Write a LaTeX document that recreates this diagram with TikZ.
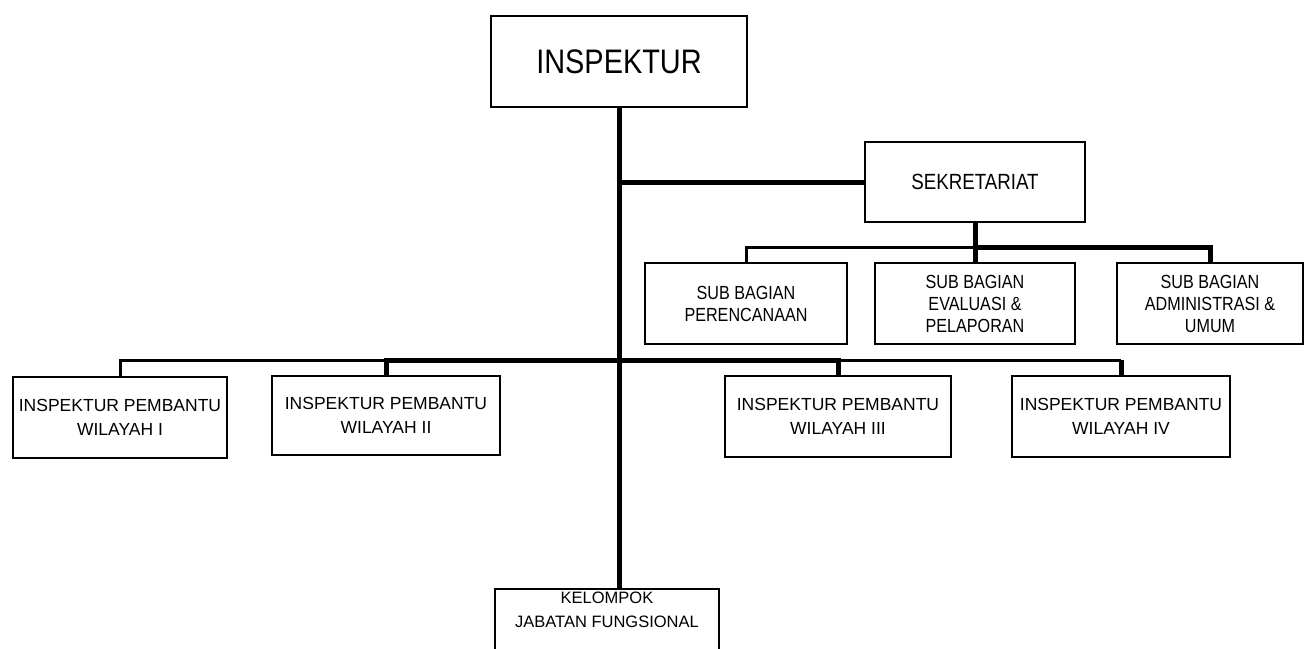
\documentclass[tikz,border=0pt]{standalone}
\usepackage{fontspec}
\setmainfont{Liberation Sans}
\newfontfamily\narrowfont[FakeStretch=0.85]{Liberation Sans}
\begin{document}
\begin{tikzpicture}[x=1pt,y=-1pt,
  box/.style={draw=black,line width=2,fill=white,inner sep=0,align=center,text=black},
  subtext/.style={font=\narrowfont\fontsize{19}{22}\selectfont},
  ptext/.style={font=\fontsize{17.5}{24}\selectfont},
  thin/.style={line width=3,line join=miter},
  thick/.style={line width=5,line join=miter}]
\useasboundingbox (0,0) rectangle (1304,648);
\clip (0,0) rectangle (1304,648);
% nodes
\node[box,minimum width=256,minimum height=91,font=\narrowfont\fontsize{34}{40}\selectfont] (ins) at (619,61.5) {INSPEKTUR};
\node[box,minimum width=220,minimum height=80,font=\narrowfont\fontsize{22}{26}\selectfont] (sek) at (975,182) {SEKRETARIAT};
\node[box,subtext,minimum width=202,minimum height=81] (sA) at (746,303.5) {SUB BAGIAN\\PERENCANAAN};
\node[box,subtext,minimum width=200,minimum height=81] (sB) at (975,303.5) {SUB BAGIAN\\EVALUASI \&\\PELAPORAN};
\node[box,subtext,minimum width=186,minimum height=81] (sC) at (1210,303.5) {SUB BAGIAN\\ADMINISTRASI \&\\UMUM};
\node[box,ptext,minimum width=214,minimum height=81] (p1) at (120,417.5) {INSPEKTUR PEMBANTU\\WILAYAH I};
\node[box,ptext,minimum width=228,minimum height=79] (p2) at (386,415.5) {INSPEKTUR PEMBANTU\\WILAYAH II};
\node[box,ptext,minimum width=226,minimum height=81] (p3) at (838,416.5) {INSPEKTUR PEMBANTU\\WILAYAH III};
\node[box,ptext,minimum width=218,minimum height=81] (p4) at (1121,416.5) {INSPEKTUR PEMBANTU\\WILAYAH IV};
\node[box,minimum width=224,minimum height=92,anchor=north] (kel) at (607,588) {};
\node[text=black,align=center,anchor=north,inner sep=0,font=\fontsize{16.5}{24}\selectfont] (keltext) at (607,592) {KELOMPOK\\JABATAN FUNGSIONAL};
% bus coordinates
\coordinate (sbus) at (975,247);
\coordinate (mbus) at (619,360);
% trunk
\draw[thick] (ins.south) -- (ins.south |- kel.north);
\draw[thick] (ins.south |- sek.west) -- (sek.west);
% sekretariat branches
\draw[thin] (sA.north) -- (sA.north |- sbus) -- (sbus);
\draw[thick] (sek.south) -- (sbus) -| (sC.north);
\draw[thick] (sbus) -- (sB.north);
% inspektur pembantu branches
\draw[thin] (p1.north) -- (p1.north |- mbus) -- (p2.north |- mbus);
\draw[thick] (p2.north) -- (p2.north |- mbus) -- (p3.north |- mbus) -- (p3.north);
\draw[thin] (p3.north |- mbus) -- (p4.north |- mbus);
\draw[thick] (p4.north |- mbus) -- (p4.north);
\end{tikzpicture}
\end{document}
